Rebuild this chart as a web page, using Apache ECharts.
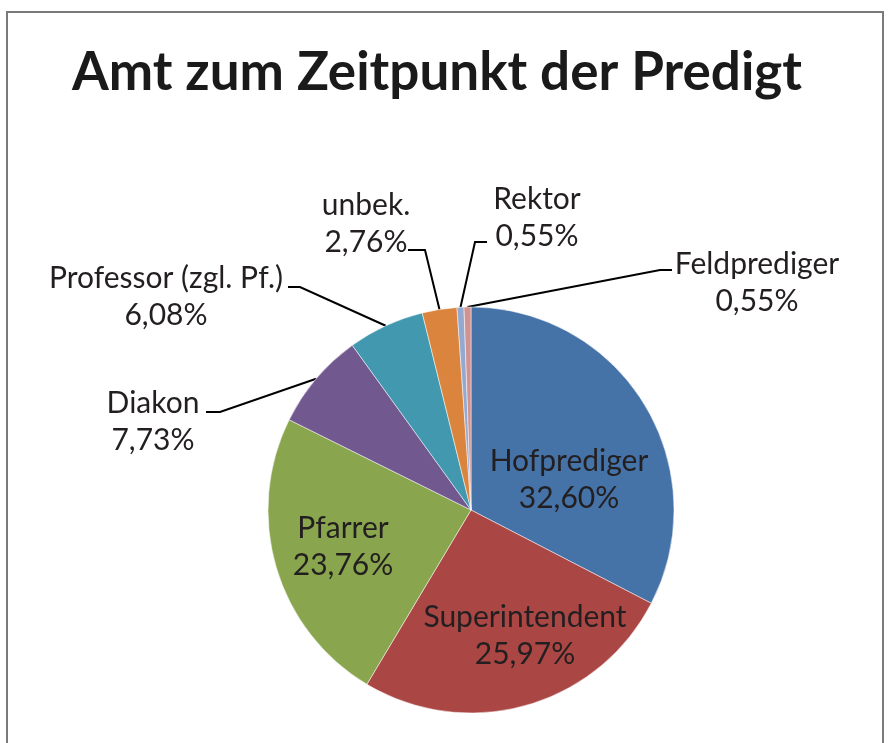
<!DOCTYPE html>
<html>
<head>
<meta charset="utf-8">
<script src="https://cdn.jsdelivr.net/npm/echarts@6/dist/echarts.min.js"></script>
<style>
  html, body { margin: 0; padding: 0; background: #fff; }
  #chart { width: 890px; height: 743px; }
</style>
</head>
<body>
<div id="chart"></div>
<script>
var dom = document.getElementById("chart");
var myChart = echarts.init(dom);

// Daten (Anteile in %)
var names = ['Hofprediger', 'Superintendent', 'Pfarrer', 'Diakon', 'Professor (zgl. Pf.)', 'unbek.', 'Rektor', 'Feldprediger'];
var values = [32.60, 25.97, 23.76, 7.73, 6.08, 2.76, 0.55, 0.55];
var colors = ['#4572A7', '#AA4643', '#89A54E', '#71588F', '#4198AF', '#DB843D', '#93A9CF', '#D19392'];

// Beschriftungs-Mittelpunkte (Layout, nicht Daten)
var labelCenter = [[569, 480], [525, 636], [343, 547], [153, 422], [166, 297], [366, 224], [537, 218], [757, 283]];
// Führungslinien: [Endpunkt x, y, Knick x]
var guide = [null, null, null, [206, 412, 220], [288, 287, 300], [408, 250, 425], [487, 242, 475], [672, 270, 660]];

var pieData = names.map(function (n, i) {
    return {
        name: n,
        value: values[i],
        itemStyle: { color: colors[i] },
        label: { position: i < 3 ? 'inside' : 'outside' },
        labelLine: { show: i >= 3 }
    };
});

var option = {
    animation: false,
    title: {
        text: 'Amt zum Zeitpunkt der Predigt',
        left: 67,
        top: 41,
        textStyle: { fontFamily: 'Lato', fontWeight: 'bold', fontSize: 53, color: '#1a1a1a' }
    },
    graphic: [{
        type: 'rect',
        shape: { x: 7, y: 12, width: 876, height: 760 },
        style: { fill: null, stroke: '#7a7a7a', lineWidth: 2 }
    }],
    series: [{
        type: 'pie',
        center: [471, 510],
        radius: 203,
        startAngle: 90,
        clockwise: true,
        avoidLabelOverlap: false,
        itemStyle: { borderColor: '#fff', borderWidth: 0.5 },
        label: {
            fontFamily: 'Lato',
            fontSize: 30,
            lineHeight: 37,
            color: '#231f20',
            align: 'center',
            formatter: function (p) {
                return p.name + '\n' + p.value.toFixed(2).replace('.', ',') + '%';
            }
        },
        labelLine: { lineStyle: { color: '#000', width: 2 }, length: 20, length2: 10 },
        labelLayout: function (params) {
            var i = params.dataIndex;
            var c = labelCenter[i];
            var res = { x: c[0], y: c[1], align: 'center', verticalAlign: 'middle' };
            var g = guide[i];
            if (g && params.labelLinePoints) {
                var a = params.labelLinePoints[0];
                res.labelLinePoints = [[a[0], a[1]], [g[2], g[1]], [g[0], g[1]]];
            }
            return res;
        },
        data: pieData
    }]
};

myChart.setOption(option);
</script>
</body>
</html>
